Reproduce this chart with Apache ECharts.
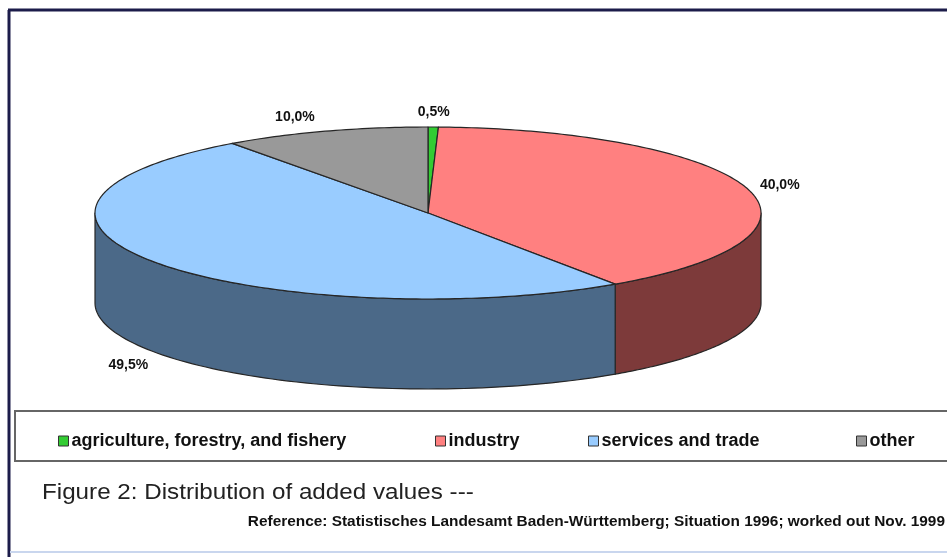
<!DOCTYPE html>
<html><head><meta charset="utf-8">
<script src="https://cdn.jsdelivr.net/npm/echarts@6/dist/echarts.min.js"></script>
<style>html,body{margin:0;padding:0;background:#fff}#c{width:947px;height:557px}</style>
</head><body><div id="c"></div>
<script>
const categories = ['agriculture, forestry, and fishery', 'industry', 'services and trade', 'other'];
const values = [0.5, 40.0, 49.5, 10.0];
const valueLabels = ['0,5%', '40,0%', '49,5%', '10,0%'];
const topColors = ['#33cc33', '#ff8080', '#99ccff', '#999999'];
const sideColors = ['#1f7a1f', '#7d3a3a', '#4b6988', '#5c5c5c'];

const FONT = "'Liberation Sans',Arial,sans-serif";
const chart = echarts.init(document.getElementById('c'), null, {renderer: 'canvas'});
const total = values.reduce((a, b) => a + b, 0);
const CX = 428, CY = 213, RX = 333, RY = 86, DEPTH = 90;
function pt(t, dy) { return [CX + RX * Math.sin(t), CY - RY * Math.cos(t) + (dy || 0)]; }

function makeRender(idx) {
  return function (params, api) {
    let start = 0;
    for (let i = 0; i < idx; i++) start += values[i];
    const v = api.value(0);
    const a0 = start / total * 2 * Math.PI;
    const a1 = (start + v) / total * 2 * Math.PI;
    const children = [];
    const s0 = Math.max(a0, Math.PI / 2), s1 = Math.min(a1, 3 * Math.PI / 2);
    if (s1 > s0) {
      const pts = [], n = 80;
      for (let k = 0; k <= n; k++) pts.push(pt(s0 + (s1 - s0) * k / n));
      for (let k = n; k >= 0; k--) pts.push(pt(s0 + (s1 - s0) * k / n, DEPTH));
      children.push({type: 'polygon', shape: {points: pts},
        style: {fill: sideColors[idx], stroke: '#262626', lineWidth: 1.2, lineJoin: 'round'}});
    }
    const tp = [[CX, CY]];
    const n2 = Math.max(3, Math.ceil((a1 - a0) * 60));
    for (let k = 0; k <= n2; k++) tp.push(pt(a0 + (a1 - a0) * k / n2));
    children.push({type: 'polygon', shape: {points: tp},
      style: {fill: topColors[idx], stroke: '#262626', lineWidth: 1.2, lineJoin: 'round'}});
    const m = (a0 + a1) / 2, sn = Math.sin(m), cs = Math.cos(m);
    const lx = CX + RX * 1.1 * sn;
    const ly = CY - RY * 1.17 * cs + (cs < -0.2 ? DEPTH + 4 : 0);
    const align = (sn < -0.1 && cs > 0) ? 'right' : 'center';
    children.push({type: 'text', z2: 10, style: {x: lx, y: ly, text: valueLabels[idx],
      align: align, verticalAlign: 'middle', fill: '#111',
      font: "bold 14px " + FONT}});
    return {type: 'group', children: children};
  };
}

const series = categories.map((name, i) => ({
  type: 'custom', name: name, coordinateSystem: 'none',
  itemStyle: {color: topColors[i]},
  data: [[values[i]]],
  renderItem: makeRender(i),
  silent: true, animation: false
}));

const legendLefts = [53, 430, 583, 851];
const legends = categories.map((c, i) => ({
  data: [c], left: legendLefts[i], top: 427, itemWidth: 10, itemHeight: 10,
  icon: 'rect', itemStyle: {borderColor: '#333', borderWidth: 1}, selectedMode: false,
  textStyle: {fontFamily: FONT, fontWeight: 'bold', fontSize: 18, color: '#111', padding: [0, 0, 0, -2]}
}));

chart.setOption({
  animation: false,
  legend: legends,
  graphic: [
    {type: 'line', shape: {x1: 9, y1: 10, x2: 9, y2: 557}, style: {stroke: '#1c1c4a', lineWidth: 3}},
    {type: 'line', shape: {x1: 8, y1: 10, x2: 947, y2: 10}, style: {stroke: '#1c1c4a', lineWidth: 3}},
    {type: 'line', shape: {x1: 10, y1: 552, x2: 947, y2: 552}, style: {stroke: '#c9d6ee', lineWidth: 2}},
    {type: 'rect', shape: {x: 15, y: 411, width: 940, height: 50}, style: {fill: 'none', stroke: '#666', lineWidth: 2}},
    {type: 'text', x: 42, y: 493, scaleX: 1.1, style: {x: 0, y: 0, text: 'Figure 2: Distribution of added values ---',
      verticalAlign: 'middle', fill: '#222', font: "22px " + FONT}},
    {type: 'text', x: 945, y: 522, scaleX: 1.1, style: {x: 0, y: 0, text: 'Reference: Statistisches Landesamt Baden-Württemberg; Situation 1996; worked out Nov. 1999',
      align: 'right', verticalAlign: 'middle', fill: '#111', font: "bold 14px " + FONT}}
  ],
  series: series
});
</script>
</body></html>
